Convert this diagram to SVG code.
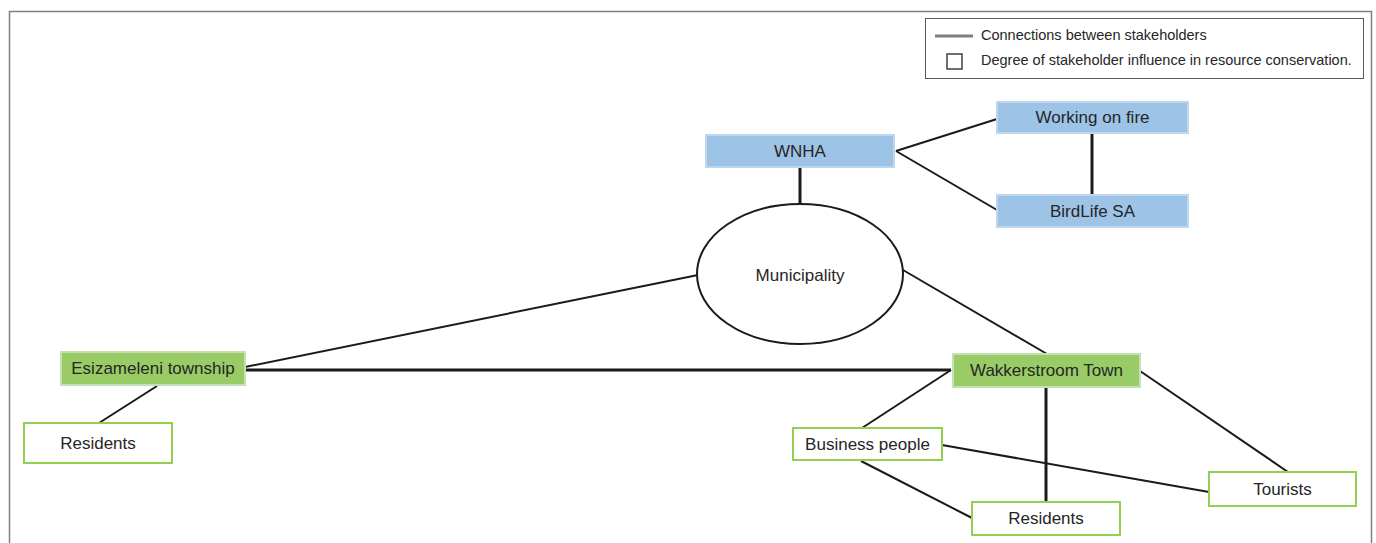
<svg xmlns="http://www.w3.org/2000/svg" width="1376" height="543" viewBox="0 0 1376 543">
<style>
.t{font-family:"Liberation Sans",Arial,sans-serif;font-size:17px;fill:#262626;text-anchor:middle;dominant-baseline:central}
.lg{font-family:"Liberation Sans",Arial,sans-serif;font-size:14.5px;fill:#262626}
.blue{fill:#9dc3e6;stroke:#bdd7ee;stroke-width:2}
.green{fill:#99cc66;stroke:#c5e0b4;stroke-width:2}
.white{fill:#ffffff;stroke:#92d050;stroke-width:2}
.e{stroke:#1a1a1a;stroke-width:2;fill:none}
.ek{stroke:#1a1a1a;stroke-width:3;fill:none}
</style>
<rect width="1376" height="543" fill="#ffffff"/>
<path d="M9.5 543 V11.5 H1371.5 V543" fill="none" stroke="#7f7f7f" stroke-width="1.5"/>
<g id="legend">
<rect x="925.5" y="18.5" width="438" height="60" fill="#ffffff" stroke="#595959" stroke-width="1"/>
<line x1="935" y1="36" x2="973" y2="36" stroke="#7f7f7f" stroke-width="3"/>
<text class="lg" x="981" y="40">Connections between stakeholders</text>
<rect x="947" y="54" width="15" height="15" fill="none" stroke="#404040" stroke-width="1.5"/>
<text class="lg" x="981" y="65">Degree of stakeholder influence in resource conservation.</text>
</g>
<g id="connectors">
<line class="ek" x1="800" y1="168" x2="800" y2="204"/>
<line class="e" x1="896" y1="151" x2="997" y2="119"/>
<line class="e" x1="896" y1="151" x2="997" y2="210"/>
<line class="ek" x1="1092" y1="134" x2="1092" y2="195"/>
<line class="e" x1="698" y1="275" x2="245" y2="367"/>
<line class="e" x1="903" y1="270" x2="1047" y2="354"/>
<line class="ek" x1="245" y1="370" x2="951" y2="370"/>
<line class="e" x1="157" y1="386" x2="99" y2="423"/>
<line class="e" x1="951" y1="370" x2="862" y2="428"/>
<line class="ek" x1="1046" y1="388" x2="1046" y2="502"/>
<line class="e" x1="1140" y1="371" x2="1288" y2="472"/>
<line class="e" x1="942" y1="445" x2="1209" y2="492"/>
<line class="e" x1="861" y1="461" x2="972" y2="518"/>
</g>
<g id="wnha"><rect class="blue" x="706" y="135" width="188" height="32"/><text class="t" x="800" y="151">WNHA</text></g>
<g id="working-on-fire"><rect class="blue" x="997" y="102" width="191" height="31"/><text class="t" x="1092.5" y="117.5">Working on fire</text></g>
<g id="birdlife-sa"><rect class="blue" x="997" y="195" width="191" height="32"/><text class="t" x="1092.5" y="211">BirdLife SA</text></g>
<g id="municipality"><ellipse cx="800" cy="274" rx="103" ry="70" fill="#ffffff" stroke="#1a1a1a" stroke-width="2"/><text class="t" x="800" y="275">Municipality</text></g>
<g id="esizameleni"><rect class="green" x="61" y="352" width="184" height="33"/><text class="t" x="153" y="368.5">Esizameleni township</text></g>
<g id="residents-left"><rect class="white" x="24" y="423" width="148" height="40"/><text class="t" x="98" y="443">Residents</text></g>
<g id="wakkerstroom"><rect class="green" x="953" y="354" width="187" height="33"/><text class="t" x="1046.5" y="370.5">Wakkerstroom Town</text></g>
<g id="business-people"><rect class="white" x="793" y="428" width="149" height="32"/><text class="t" x="867.5" y="444">Business people</text></g>
<g id="tourists"><rect class="white" x="1209" y="472" width="147" height="34"/><text class="t" x="1282.5" y="489">Tourists</text></g>
<g id="residents-right"><rect class="white" x="972" y="502" width="148" height="33"/><text class="t" x="1046" y="518.5">Residents</text></g>
</svg>
